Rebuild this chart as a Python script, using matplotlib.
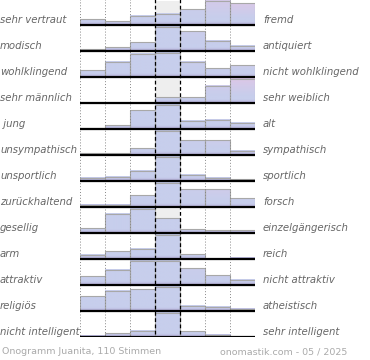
import matplotlib
matplotlib.use("Agg")
import matplotlib.pyplot as plt
import numpy as np

LEFT_LABELS = [
    "sehr vertraut", "modisch", "wohlklingend", "sehr männlich", " jung",
    "unsympathisch", "unsportlich", "zurückhaltend", "gesellig", "arm",
    "attraktiv", "religiös", "nicht intelligent",
]
RIGHT_LABELS = [
    "fremd", "antiquiert", "nicht wohlklingend", "sehr weiblich", "alt",
    "sympathisch", "sportlich", "forsch", "einzelgängerisch", "reich",
    "nicht attraktiv", "atheistisch", "sehr intelligent",
]

# relative vote share per row, 7 steps (row maximum = 1)
vertraut = [0.24, 0.15, 0.37, 0.46, 0.65, 1.00, 0.90]
modisch = [0.07, 0.15, 0.36, 1.00, 0.80, 0.42, 0.22]
wohlklingend = [0.28, 0.62, 0.95, 1.00, 0.62, 0.36, 0.49]
maennlich = [0.00, 0.00, 0.00, 0.23, 0.23, 0.70, 1.00]
jung = [0.03, 0.16, 0.76, 1.00, 0.33, 0.37, 0.25]
sympathisch = [0.08, 0.08, 0.28, 1.00, 0.60, 0.60, 0.17]
sportlich = [0.13, 0.17, 0.41, 1.00, 0.25, 0.13, 0.08]
forsch = [0.09, 0.09, 0.49, 1.00, 0.72, 0.72, 0.36]
gesellig = [0.20, 0.79, 1.00, 0.61, 0.16, 0.11, 0.11]
reich = [0.17, 0.32, 0.41, 1.00, 0.19, 0.00, 0.05]
attraktiv = [0.35, 0.62, 1.00, 1.00, 0.69, 0.39, 0.22]
religioes = [0.60, 0.83, 0.90, 1.00, 0.21, 0.17, 0.10]
intelligent = [0.05, 0.15, 0.25, 1.00, 0.24, 0.09, 0.00]

ROWS = [vertraut, modisch, wohlklingend, maennlich, jung, sympathisch,
        sportlich, forsch, gesellig, reich, attraktiv, religioes, intelligent]

FOOTER_LEFT = "Onogramm Juanita, 110 Stimmen"
FOOTER_RIGHT = "onomastik.com - 05 / 2025"

BLUE = np.array([199, 206, 236]) / 255
PINK = np.array([224, 198, 230]) / 255
PURPLE = np.array([172, 156, 206]) / 255
BAR_SCALE = 0.94
TEXT_GRAY = "#666666"


def bar_gradient(col, height, n=40):
    # vertical strip of colours from baseline (f=0) to bar top
    f = np.linspace(0, height, n)
    xw = np.clip((col + 0.5 - 3.8) / 3.2, 0, 1)
    pink_w = xw * np.clip((f - 0.3) / 0.7, 0, 1)
    colors = BLUE[None, :] * (1 - pink_w[:, None]) + PINK[None, :] * pink_w[:, None]
    bottom_w = np.clip((0.14 - f) / 0.14, 0, 1) * 0.6
    colors = colors * (1 - bottom_w[:, None]) + PURPLE[None, :] * bottom_w[:, None]
    return colors[:, None, :]


def main():
    fig = plt.figure(figsize=(3.7, 3.6), dpi=100)
    n_rows = len(ROWS)
    ax = fig.add_axes([80 / 370, 1 - 337 / 360, 175 / 370, 338 / 360])
    ax.axis("off")

    for k, values in enumerate(ROWS):
        base = k + 1
        # neutral column background
        ax.add_patch(plt.Rectangle((3, base), 1, -BAR_SCALE, facecolor="#eeeeee",
                                   edgecolor="none", zorder=0))
        for col, v in enumerate(values):
            if v <= 0:
                continue
            h = v * BAR_SCALE
            ax.imshow(bar_gradient(col, v), extent=(col, col + 1, base, base - h),
                      origin="lower", aspect="auto", interpolation="bilinear", zorder=1)
        ax.bar(np.arange(7) + 0.5, -np.array(values) * BAR_SCALE, width=1, bottom=base,
               fill=False, edgecolor="#a8a8a8", linewidth=0.8, zorder=2)
        ax.hlines(base, 0, 7.04, color="black", linewidth=1.6, zorder=4)

        ax.text(-3.2, base - 0.21, LEFT_LABELS[k], ha="left", va="center",
                fontsize=7.3, style="italic", color=TEXT_GRAY, clip_on=False)
        ax.text(7.32, base - 0.21, RIGHT_LABELS[k], ha="left", va="center",
                fontsize=7.3, style="italic", color=TEXT_GRAY, clip_on=False)

    for x in [0, 1, 2, 5, 6, 7]:
        ax.vlines(x, 0, n_rows, color="#888888", linewidth=0.7,
                  linestyles=(0, (1, 2)), zorder=3)
    for x in [3, 4]:
        ax.vlines(x, 0, n_rows, color="black", linewidth=0.9,
                  linestyles=(0, (3, 2)), zorder=3)

    ax.set_xlim(0, 7)
    ax.set_ylim(n_rows, 0)

    fig.text(2 / 370, 1 - 352 / 360, FOOTER_LEFT, ha="left", va="center",
             fontsize=6.8, color="#aaaaaa")
    fig.text(220 / 370, 1 - 352 / 360, FOOTER_RIGHT, ha="left", va="center",
             fontsize=6.8, color="#aaaaaa")

    fig.savefig("out.png", dpi=100)
    plt.close(fig)


if __name__ == "__main__":
    main()
